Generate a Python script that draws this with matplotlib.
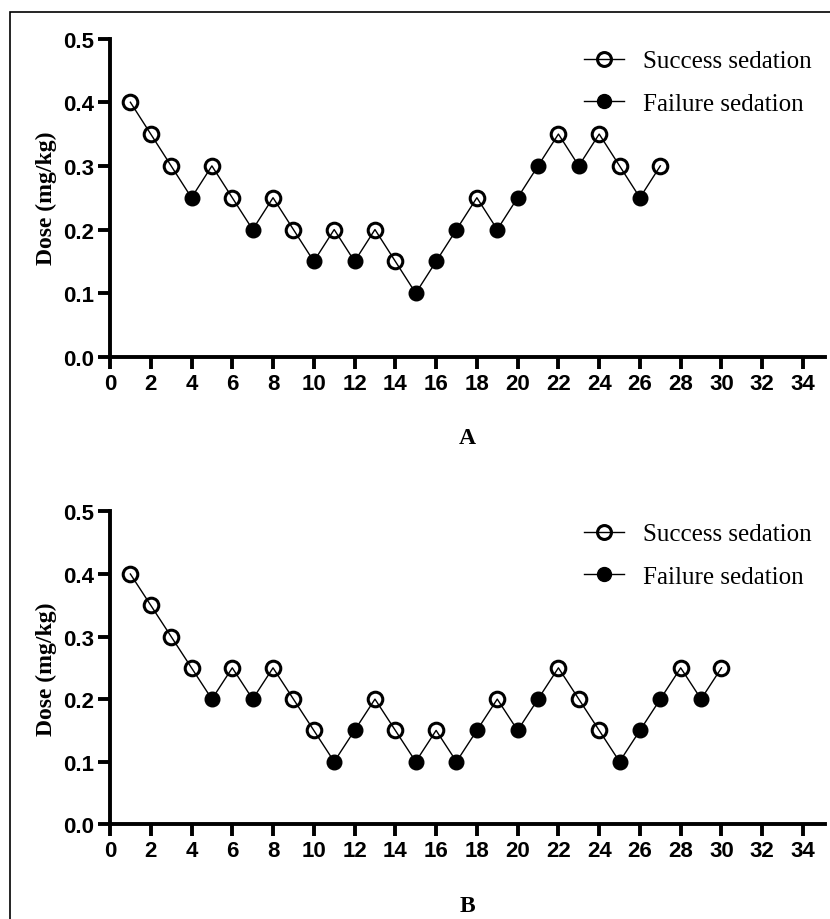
import matplotlib.pyplot as plt
from matplotlib.lines import Line2D
from matplotlib.patches import Rectangle

# panel A: up-and-down sequence (1 = success, 0 = failure)
patients_a = list(range(1, 28))
dose_a = [0.40, 0.35, 0.30, 0.25, 0.30, 0.25, 0.20, 0.25, 0.20, 0.15,
          0.20, 0.15, 0.20, 0.15, 0.10, 0.15, 0.20, 0.25, 0.20, 0.25,
          0.30, 0.35, 0.30, 0.35, 0.30, 0.25, 0.30]
result_a = [1, 1, 1, 0, 1, 1, 0, 1, 1, 0,
            1, 0, 1, 1, 0, 0, 0, 1, 0, 0,
            0, 1, 0, 1, 1, 0, 1]

# panel B
patients_b = list(range(1, 31))
dose_b = [0.40, 0.35, 0.30, 0.25, 0.20, 0.25, 0.20, 0.25, 0.20, 0.15,
          0.10, 0.15, 0.20, 0.15, 0.10, 0.15, 0.10, 0.15, 0.20, 0.15,
          0.20, 0.25, 0.20, 0.15, 0.10, 0.15, 0.20, 0.25, 0.20, 0.25]
result_b = [1, 1, 1, 1, 0, 1, 0, 1, 1, 1,
            0, 0, 1, 1, 0, 1, 0, 0, 1, 0,
            0, 1, 1, 1, 0, 0, 0, 1, 0, 1]

xticks = list(range(0, 35, 2))
yticks = [0.0, 0.1, 0.2, 0.3, 0.4, 0.5]

fig = plt.figure(figsize=(8.3, 9.2), dpi=100)

# 外枠（右と下は切れている）
fig.patches.append(Rectangle((0.012, -0.05), 1.2, 0.986 + 0.05,
                             transform=fig.transFigure, fill=False,
                             edgecolor='black', linewidth=1.2))

def draw_panel(rect, x, dose, result, letter):
    ax = fig.add_axes(rect)
    ax.plot(x, dose, color='black', linewidth=1.0, zorder=2)
    xs = [xi for xi, r in zip(x, result) if r == 1]
    ys = [d for d, r in zip(dose, result) if r == 1]
    xf = [xi for xi, r in zip(x, result) if r == 0]
    yf = [d for d, r in zip(dose, result) if r == 0]
    ax.plot(xs, ys, 'o', markersize=10.5, markerfacecolor='none',
            markeredgecolor='black', markeredgewidth=2.2, zorder=3)
    ax.plot(xf, yf, 'o', markersize=10.5, markerfacecolor='black',
            markeredgecolor='black', zorder=3)

    ax.set_xlim(0, 35.1)
    ax.set_ylim(0, 0.5)
    ax.set_xticks(xticks)
    ax.set_yticks(yticks)
    ax.set_yticklabels([f'{v:.1f}' for v in yticks])
    for s in ['top', 'right']:
        ax.spines[s].set_visible(False)
    for s in ['left', 'bottom']:
        ax.spines[s].set_linewidth(2.8)
    ax.tick_params(axis='both', width=2.8, length=8.5, labelsize=16, pad=3)
    for lab in ax.get_xticklabels() + ax.get_yticklabels():
        lab.set_fontweight('bold')
        lab.set_family('Liberation Sans')
    ax.set_ylabel('Dose (mg/kg)', family='Liberation Serif', fontweight='bold',
                  fontsize=17, labelpad=4)
    ax.set_xlabel(letter, family='Liberation Serif', fontweight='bold',
                  fontsize=17, labelpad=24)

    handles = [
        Line2D([], [], color='black', linewidth=1.0, marker='o', markersize=10,
               markerfacecolor='none', markeredgewidth=2.2),
        Line2D([], [], color='black', linewidth=1.0, marker='o', markersize=10,
               markerfacecolor='black'),
    ]
    ax.legend(handles, ['Success sedation', 'Failure sedation'],
              loc='upper right', bbox_to_anchor=(1.012, 1.035), frameon=False,
              prop={'family': 'Liberation Serif', 'size': 18},
              handlelength=1.6, handletextpad=0.75, labelspacing=0.8)
    return ax

draw_panel([0.1325, 0.611, 0.862, 0.346], patients_a, dose_a, result_a, 'A')
draw_panel([0.1325, 0.103, 0.862, 0.340], patients_b, dose_b, result_b, 'B')

fig.savefig('out.png', dpi=100)
